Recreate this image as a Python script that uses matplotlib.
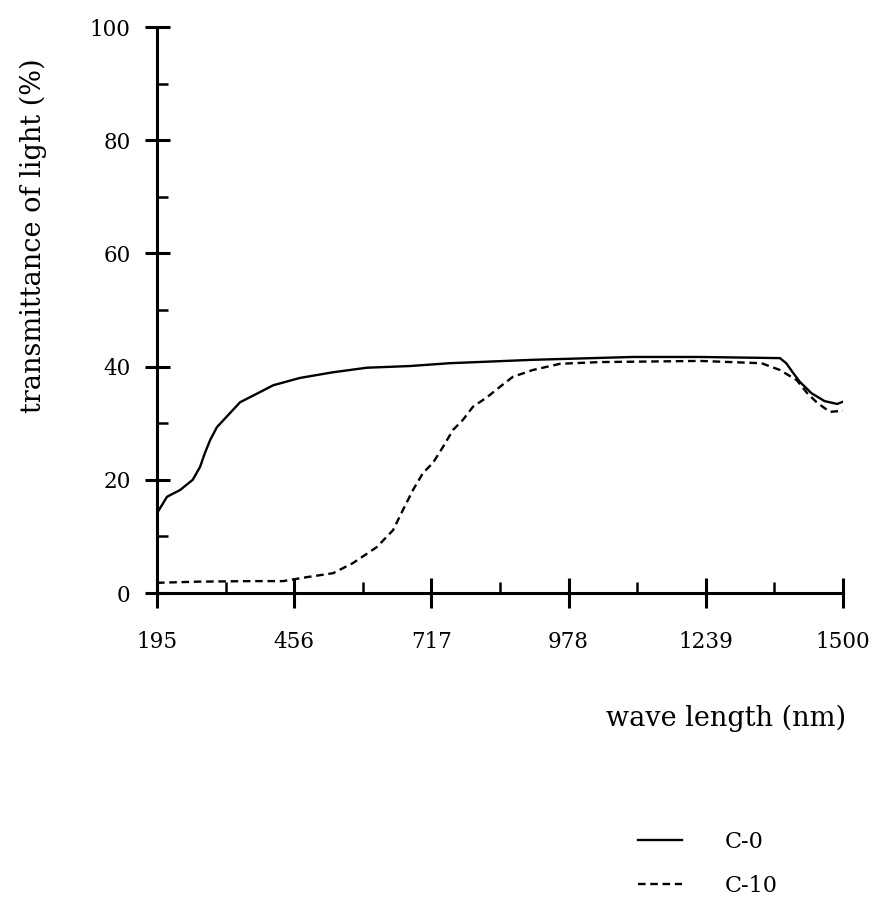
import numpy as np
import matplotlib
matplotlib.use('Agg')
import matplotlib.pyplot as plt
from matplotlib.ticker import MultipleLocator, FixedLocator

plt.rcParams['font.family'] = 'DejaVu Serif'

# wave length (nm) and transmittance (%)
c0_wave = [195, 214, 239, 263, 277, 286, 296, 309, 334, 353, 391, 416, 467, 530,
           594, 676, 752, 910, 1100, 1228, 1380, 1392, 1405, 1418, 1440, 1465, 1489, 1500]
c0_trans = [14.1, 17.0, 18.2, 20.0, 22.3, 24.7, 27.0, 29.3, 31.8, 33.7, 35.5, 36.7, 38.0, 39.0,
            39.8, 40.1, 40.6, 41.2, 41.7, 41.7, 41.5, 40.6, 38.9, 37.3, 35.3, 33.9, 33.4, 33.8]

c10_wave = [195, 271, 372, 435, 480, 530, 568, 613, 644, 663, 682, 701, 720, 739, 758,
            777, 796, 823, 847, 872, 910, 962, 1038, 1228, 1345, 1380, 1412, 1432, 1451,
            1475, 1500]
c10_trans = [1.8, 2.0, 2.1, 2.1, 2.8, 3.5, 5.3, 8.1, 11.1, 14.7, 18.2, 21.2, 23.0, 25.8, 28.8,
             30.6, 32.9, 34.6, 36.4, 38.2, 39.4, 40.5, 40.8, 41.0, 40.6, 39.4, 37.6, 35.3, 33.6,
             32.0, 32.2]

x_ticks = [195, 456, 717, 978, 1239, 1500]
y_ticks = [0, 20, 40, 60, 80, 100]

fig = plt.figure(figsize=(8.86, 9.02), dpi=100)
ax = fig.add_axes([157 / 886, 1 - 593 / 902, 686 / 886, 566 / 902])

ax.plot(c0_wave, c0_trans, color='black', linewidth=1.7, label='C-0')
ax.plot(c10_wave, c10_trans, color='black', linewidth=1.7, dashes=(3.2, 2), label='C-10')

ax.set_xlim(195, 1500)
ax.set_ylim(0, 100)

for side in ['top', 'right']:
    ax.spines[side].set_visible(False)
for side in ['left', 'bottom']:
    ax.spines[side].set_linewidth(2.2)

ax.set_xticks(x_ticks)
ax.set_xticklabels([str(v) for v in x_ticks])
ax.xaxis.set_minor_locator(FixedLocator([(a + b) / 2 for a, b in zip(x_ticks[:-1], x_ticks[1:])]))
ax.set_yticks(y_ticks)
ax.yaxis.set_minor_locator(MultipleLocator(10))

ax.tick_params(axis='both', which='major', direction='inout', width=2.2, labelsize=15.5)
ax.tick_params(axis='x', which='major', length=22, pad=16)
ax.tick_params(axis='y', which='major', length=18, pad=10)
ax.tick_params(axis='both', which='minor', direction='in', length=8, width=1.8)

ax.set_ylabel('transmittance of light (%)', fontsize=19.5)
ax.yaxis.set_label_coords(-0.16, 0.631)

fig.text(726 / 886, 1 - 718 / 902, 'wave length (nm)', fontsize=19.5, ha='center', va='center')

fig.legend(loc='upper left', bbox_to_anchor=(618 / 886, 1 - 811 / 902), frameon=False,
           fontsize=16, handlelength=2.0, handletextpad=1.9, labelspacing=1.0)

fig.savefig('out.png', dpi=100, facecolor='white')
